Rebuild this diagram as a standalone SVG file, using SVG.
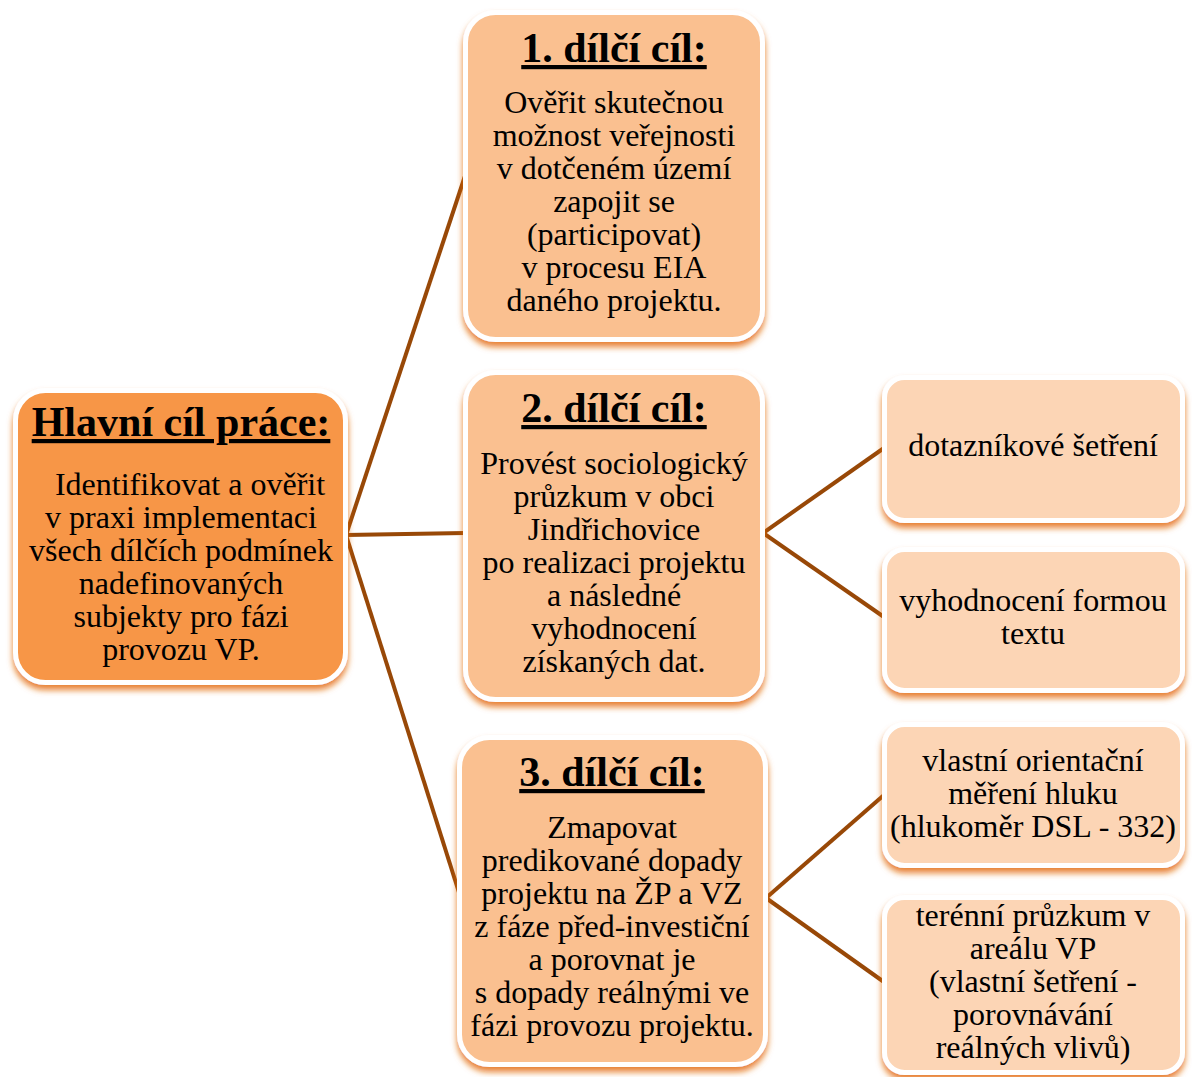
<svg xmlns="http://www.w3.org/2000/svg" width="1192" height="1077" viewBox="0 0 1192 1077">
<defs>
<filter id="sh" x="-10%" y="-10%" width="120%" height="125%">
<feDropShadow dx="0" dy="5" stdDeviation="3" flood-color="#E36C09" flood-opacity="0.85"/>
</filter>
<style>
.box{stroke:#FFFFFF;stroke-width:5;filter:url(#sh)}
.main{fill:#F79646}
.mid{fill:#FAC090}
.leaf{fill:#FCD5B5}
text{font-family:"Liberation Serif","Times New Roman",serif;fill:#000000;text-anchor:middle}
.t{font-size:42px;font-weight:bold;text-decoration:underline}
.b{font-size:32px}
.c{stroke:#984807;stroke-width:4;fill:none}
</style>
</defs>
<rect width="1192" height="1077" fill="#FFFFFF"/>
<g id="connectors">
<line class="c" x1="346" y1="535" x2="465" y2="176"/>
<line class="c" x1="346" y1="535" x2="465" y2="533"/>
<line class="c" x1="346" y1="535" x2="462" y2="902"/>
<line class="c" x1="763" y1="533" x2="884" y2="448"/>
<line class="c" x1="763" y1="533" x2="884" y2="617"/>
<line class="c" x1="766" y1="898" x2="884" y2="795"/>
<line class="c" x1="766" y1="898" x2="884" y2="982"/>
</g>
<g id="main">
<rect class="box main" x="15.5" y="390.5" width="330" height="292" rx="30"/>
<text class="t" x="181" y="436">Hlavní cíl práce:</text>
<text class="b"><tspan x="190" y="495">Identifikovat a ověřit</tspan><tspan x="181" y="528">v praxi implementaci</tspan><tspan x="181" y="561">všech dílčích podmínek</tspan><tspan x="181" y="594">nadefinovaných</tspan><tspan x="181" y="627">subjekty pro fázi</tspan><tspan x="181" y="660">provozu VP.</tspan></text>
</g>
<g id="goal1">
<rect class="box mid" x="465.5" y="12.5" width="297" height="327" rx="30"/>
<text class="t" x="614" y="62">1. dílčí cíl:</text>
<text class="b"><tspan x="614" y="113">Ověřit skutečnou</tspan><tspan x="614" y="146">možnost veřejnosti</tspan><tspan x="614" y="179">v dotčeném území</tspan><tspan x="614" y="212">zapojit se</tspan><tspan x="614" y="245">(participovat)</tspan><tspan x="614" y="278">v procesu EIA</tspan><tspan x="614" y="311">daného projektu.</tspan></text>
</g>
<g id="goal2">
<rect class="box mid" x="465.5" y="372.5" width="297" height="327" rx="30"/>
<text class="t" x="614" y="422">2. dílčí cíl:</text>
<text class="b"><tspan x="614" y="474">Provést sociologický</tspan><tspan x="614" y="507">průzkum v obci</tspan><tspan x="614" y="540">Jindřichovice</tspan><tspan x="614" y="573">po realizaci projektu</tspan><tspan x="614" y="606">a následné</tspan><tspan x="614" y="639">vyhodnocení</tspan><tspan x="614" y="672">získaných dat.</tspan></text>
</g>
<g id="goal3">
<rect class="box mid" x="459.5" y="737.5" width="306" height="327" rx="30"/>
<text class="t" x="612" y="786">3. dílčí cíl:</text>
<text class="b"><tspan x="612" y="838">Zmapovat</tspan><tspan x="612" y="871">predikované dopady</tspan><tspan x="612" y="904">projektu na ŽP a VZ</tspan><tspan x="612" y="937">z fáze před-investiční</tspan><tspan x="612" y="970">a porovnat je</tspan><tspan x="612" y="1003">s dopady reálnými ve</tspan><tspan x="612" y="1036">fázi provozu projektu.</tspan></text>
</g>
<g id="leaf1">
<rect class="box leaf" x="884.5" y="377.5" width="298" height="143" rx="20"/>
<text class="b" x="1033" y="456">dotazníkové šetření</text>
</g>
<g id="leaf2">
<rect class="box leaf" x="884.5" y="549.5" width="298" height="141" rx="20"/>
<text class="b"><tspan x="1033" y="611">vyhodnocení formou</tspan><tspan x="1033" y="644">textu</tspan></text>
</g>
<g id="leaf3">
<rect class="box leaf" x="884.5" y="724.5" width="298" height="141" rx="20"/>
<text class="b"><tspan x="1033" y="771">vlastní orientační</tspan><tspan x="1033" y="804">měření hluku</tspan><tspan x="1033" y="837">(hlukoměr DSL - 332)</tspan></text>
</g>
<g id="leaf4">
<rect class="box leaf" x="884.5" y="897.5" width="298" height="175" rx="20"/>
<text class="b"><tspan x="1033" y="926">terénní průzkum v</tspan><tspan x="1033" y="959">areálu VP</tspan><tspan x="1033" y="992">(vlastní šetření -</tspan><tspan x="1033" y="1025">porovnávání</tspan><tspan x="1033" y="1058">reálných vlivů)</tspan></text>
</g>
</svg>
